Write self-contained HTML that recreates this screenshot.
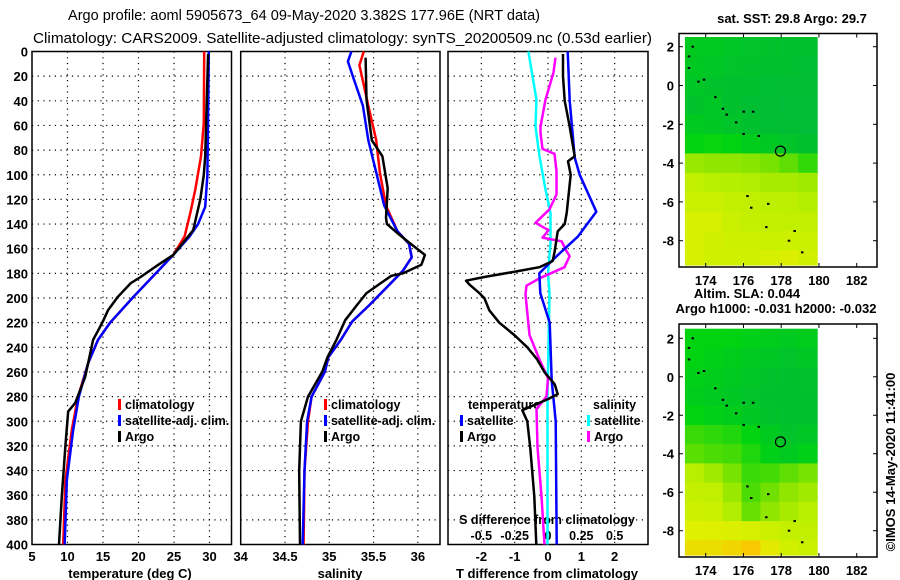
<!DOCTYPE html>
<html><head><meta charset="utf-8"><style>
html,body{margin:0;padding:0;background:#fff;}
svg{display:block;font-family:"Liberation Sans",sans-serif;}
.t{font-size:13px;font-weight:bold;}
</style></head><body>
<svg id="fig" width="900" height="580" viewBox="0 0 900 580" xmlns="http://www.w3.org/2000/svg">
<text x="68" y="20" font-size="14.5" textLength="472" lengthAdjust="spacingAndGlyphs">Argo profile: aoml 5905673_64 09-May-2020 3.382S 177.96E (NRT data)</text>
<text x="33" y="43" font-size="14.5" textLength="619" lengthAdjust="spacingAndGlyphs">Climatology: CARS2009. Satellite-adjusted climatology: synTS_20200509.nc (0.53d earlier)</text>
<g id="plots"></g>
<text class="t" transform="translate(895,462) rotate(-90)" text-anchor="middle" font-size="13" font-weight="normal">©IMOS 14-May-2020 11:41:00</text>
</svg>
<script>
// ---------- data ----------
const depthTicks = [0,20,40,60,80,100,120,140,160,180,200,220,240,260,280,300,320,340,360,380,400];
const tempTicks = [5,10,15,20,25,30];
const salTicks = [34,34.5,35,35.5,36];
const tdiffTicks = [-2,-1,0,1,2];
const sdiffTicks = [-0.5,-0.25,0,0.25,0.5];
const sdiffTickLabels = ['-0.5','-0.25','0','0.25','0.5'];

const tClimDepth = [0,58,85,112,131,150,165,199,220,234,253,280,307,348,400];
const tClimVal   = [29.25,29.2,28.8,28.0,27.3,26.5,24.9,19.3,16.0,14.3,12.9,11.5,10.6,9.7,9.4];
const tSatDepth  = [0,100,126,140,150,165,199,220,234,253,280,307,348,400];
const tSatVal    = [29.9,29.7,29.4,28.4,27.2,24.9,19.3,16.0,14.3,12.9,11.6,10.8,9.9,9.6];
const tArgoDepth = [2,85,100,120,140,145,165,173,183,188,199,210,220,234,253,264,285,292,320,361,400];
const tArgoVal   = [29.8,29.4,29.2,28.7,27.9,27.7,24.9,22.8,20.3,18.9,17.1,15.7,14.9,13.6,12.9,12.5,11.1,10.1,9.7,9.2,8.8];

const sClimDepth = [0,11,44,72,98,125,146,156,167,178,192,206,219,234,248,260,280,300,340,400];
const sClimVal   = [35.39,35.34,35.44,35.53,35.57,35.64,35.77,35.9,35.93,35.83,35.64,35.45,35.26,35.13,34.99,34.95,34.8,34.76,34.72,34.71];
const sSatDepth  = [0,8,21,44,72,98,125,146,156,167,178,192,206,219,234,248,260,280,300,340,400];
const sSatVal    = [35.25,35.21,35.27,35.38,35.44,35.53,35.62,35.77,35.9,35.93,35.83,35.64,35.45,35.26,35.13,34.99,34.95,34.8,34.75,34.72,34.7];
const sArgoDepth = [5,39,72,85,111,135,140,148,155,165,173,180,182,196,206,218,234,248,260,280,300,340,400];
const sArgoVal   = [35.41,35.42,35.48,35.6,35.66,35.64,35.65,35.78,35.9,36.08,36.04,35.83,35.7,35.42,35.31,35.18,35.08,34.98,34.92,34.76,34.68,34.66,34.67];

const dtArgoDepth = [2,20,40,61,85,89,100,131,140,146,162,170,175,178,183,186,189,196,200,210,220,230,240,250,260,270,278,282,291,300,322,361,400];
const dtArgoVal   = [0.45,0.45,0.5,0.65,0.8,0.6,0.68,0.56,0.5,0.29,0.2,0.14,-0.26,-0.86,-1.91,-2.46,-2.36,-2.06,-1.91,-1.76,-1.46,-1.01,-0.62,-0.32,-0.11,0.2,0.29,0.0,-0.77,-0.62,-0.53,-0.41,-0.35];
const dtSatDepth  = [0,40,86,100,130,150,165,180,196,220,267,300,400];
const dtSatVal    = [0.59,0.65,0.8,0.95,1.45,0.9,0.3,-0.26,-0.23,0.05,0.11,0.23,0.26];
const dsSatDepth  = [0,39,61,85,112,131,155,180,196,280,400];
const dsSatVal    = [-0.147,-0.087,-0.094,-0.064,-0.019,0.019,0.019,0,0.011,-0.004,-0.004];
const dsArgoDepth = [5,17,39,61,66,79,83,97,116,128,139,145,151,154,162,166,175,184,190,197,230,250,265,280,290,321,361,400];
const dsArgoVal   = [0.056,0.041,-0.019,-0.056,-0.056,-0.041,0.049,0.064,0.064,0.011,-0.094,0.004,-0.041,0.102,0.139,0.162,0.124,-0.064,-0.161,-0.169,-0.139,-0.064,0,-0.011,-0.086,-0.079,-0.049,-0.026];

// maps: rows lat 2.5..-9.5 (1 deg), cols lon 173..180 (1 deg), values 0..1 on colour scale
const mapLonTicks = [174,176,178,180,182];
const mapLatTicks = [2,0,-2,-4,-6,-8];
const sstGrid = [
 [0.18,0.18,0.15,0.14,0.13,0.12,0.12],
 [0.17,0.15,0.14,0.13,0.12,0.11,0.10],
 [0.15,0.13,0.12,0.12,0.10,0.09,0.09],
 [0.13,0.15,0.12,0.10,0.09,0.08,0.08],
 [0.18,0.16,0.14,0.12,0.10,0.09,0.08],
 [0.24,0.27,0.24,0.20,0.17,0.14,0.12],
 [0.60,0.58,0.58,0.56,0.52,0.46,0.36],
 [0.70,0.68,0.67,0.66,0.64,0.64,0.62],
 [0.74,0.74,0.71,0.70,0.69,0.69,0.67],
 [0.80,0.80,0.74,0.71,0.71,0.70,0.70],
 [0.80,0.78,0.76,0.75,0.74,0.75,0.74],
 [0.80,0.78,0.78,0.77,0.80,0.82,0.78]
];
const slaGrid = [
 [0.25,0.25,0.24,0.22,0.20,0.18,0.20],
 [0.24,0.22,0.20,0.18,0.16,0.14,0.16],
 [0.22,0.20,0.18,0.15,0.13,0.12,0.13],
 [0.20,0.18,0.16,0.14,0.12,0.11,0.12],
 [0.25,0.22,0.20,0.16,0.13,0.12,0.12],
 [0.38,0.35,0.32,0.25,0.18,0.14,0.15],
 [0.45,0.42,0.40,0.32,0.22,0.18,0.22],
 [0.68,0.62,0.52,0.38,0.40,0.46,0.52],
 [0.72,0.70,0.60,0.42,0.50,0.58,0.62],
 [0.75,0.74,0.66,0.48,0.58,0.64,0.68],
 [0.85,0.84,0.82,0.80,0.75,0.72,0.70],
 [0.92,0.92,0.95,1.00,0.88,0.78,0.74]
];
const islandLon = [173.1,173.3,173.6,173.9,174.5,174.9,175.1,175.6,176.0,176.5,176.8,176.0,176.2,176.4,177.3,177.2,178.4,178.7,179.1,173.1];
const islandLat = [1.5,2.0,0.2,0.3,-0.6,-1.2,-1.5,-1.9,-1.35,-1.35,-2.6,-2.5,-5.7,-6.3,-6.1,-7.3,-8.0,-7.5,-8.6,0.9];
const argoLon = 177.96, argoLat = -3.382;

// ---------- helpers ----------
const NS='http://www.w3.org/2000/svg';
const root=document.getElementById('plots');
function el(tag,attrs,parent){const e=document.createElementNS(NS,tag);for(const k in attrs)e.setAttribute(k,attrs[k]);(parent||root).appendChild(e);return e;}
function txt(x,y,s,anchor,parent,size){const t=el('text',{x:x,y:y,'text-anchor':anchor||'middle','font-size':size||13,'font-weight':'bold'},parent);t.textContent=s;return t;}

const PY0=51.5, PY1=544.5;
function yD(d){return PY0+(d/400)*(PY1-PY0);}

function panel(name,x0,x1,vmin,vmax,ticks,labels){
  const g=el('g',{});
  
  
  const sx=v=>x0+(v-vmin)/(vmax-vmin)*(x1-x0);
  depthTicks.forEach(d=>{ if(d>0&&d<400){const l=el('line',{x1:x0,x2:x1,y1:yD(d),y2:yD(d),stroke:'#000','stroke-width':1.2,'stroke-dasharray':'1.2 4.5'},g);
    
    }});
  ticks.forEach(v=>{const X=sx(v); if(X>x0+1&&X<x1-1){const l=el('line',{x1:X,x2:X,y1:PY0,y2:PY1,stroke:'#000','stroke-width':1.2,'stroke-dasharray':'1.2 4.5'},g);
    
    }
    if(labels){const t=txt(X,561,labels[ticks.indexOf(v)],'middle',g);
      
      }});
  const f=el('rect',{x:x0,y:PY0,width:x1-x0,height:PY1-PY0,fill:'none',stroke:'#000','stroke-width':1.5},g);
  
  
  return {g,sx};
}
function line(p,depths,vals,color,name,scaleFn){
  let d='';depths.forEach((z,i)=>{d+=(i?'L':'M')+(scaleFn?scaleFn(vals[i]):p.sx(vals[i])).toFixed(1)+' '+yD(z).toFixed(1);});
  const e=el('path',{d:d,fill:'none',stroke:color,'stroke-width':2.5,'stroke-linejoin':'round'},p.g);
  
  
}
function legend(g,x,y,color,label){
  const r=el('rect',{x:x,y:y-10,width:3,height:11,fill:color},g);
  
  
  const t=txt(x+7,y,label,'start',g,12.5);
  
  
}

// depth axis labels
depthTicks.forEach(d=>{const t=txt(28,yD(d)+5,String(d),'end');
  
  });

// Panel 1 temperature
const p1=panel('temperature-panel',32,231.5,5,33.1,tempTicks,tempTicks.map(String));
line(p1,tClimDepth,tClimVal,'#ff0000','temperature-climatology-line');
line(p1,tSatDepth,tSatVal,'#0000ff','temperature-satellite-line');
line(p1,tArgoDepth,tArgoVal,'#000','temperature-argo-line');
legend(p1.g,118,409,'#ff0000','climatology');
legend(p1.g,118,425,'#0000ff','satellite-adj. clim.');
legend(p1.g,118,441,'#000','Argo');
let t=txt(130,578,'temperature (deg C)','middle');



// Panel 2 salinity
const p2=panel('salinity-panel',240.7,440,34,36.25,salTicks,salTicks.map(String));
line(p2,sClimDepth,sClimVal,'#ff0000','salinity-climatology-line');
line(p2,sSatDepth,sSatVal,'#0000ff','salinity-satellite-line');
line(p2,sArgoDepth,sArgoVal,'#000','salinity-argo-line');
legend(p2.g,324,409,'#ff0000','climatology');
legend(p2.g,324,425,'#0000ff','satellite-adj. clim.');
legend(p2.g,324,441,'#000','Argo');
t=txt(340,578,'salinity','middle');



// Panel 3 differences
const p3=panel('difference-panel',448,648,-3,3,tdiffTicks,tdiffTicks.map(String));
const sxS=v=>p3.sx(v*4);
t=txt(547,524,'S difference from climatology','middle',p3.g,12.5);


sdiffTicks.forEach((v,i)=>{const tt=txt(sxS(v),540,sdiffTickLabels[i],'middle',p3.g,12.5);
  
  });
t=txt(468,409,'temperature','start',p3.g,12.5);


t=txt(593,409,'salinity','start',p3.g,12.5);


legend(p3.g,460,425,'#0000ff','satellite');
legend(p3.g,460,441,'#000','Argo');
legend(p3.g,587,425,'#00ffff','satellite');
legend(p3.g,587,441,'#ff00ff','Argo');
line(p3,dsSatDepth,dsSatVal,'#00ffff','salinity-satellite-diff-line',sxS);
line(p3,dsArgoDepth,dsArgoVal,'#ff00ff','salinity-argo-diff-line',sxS);
line(p3,dtSatDepth,dtSatVal,'#0000ff','temperature-satellite-diff-line');
line(p3,dtArgoDepth,dtArgoVal,'#000','temperature-argo-diff-line');
t=txt(547,578,'T difference from climatology','middle');



// ---------- maps ----------
const cstops=[[0,[0,176,72]],[0.25,[0,212,16]],[0.5,[112,224,0]],[0.7,[192,240,0]],[0.85,[224,240,0]],[1,[248,200,0]]];
function cmap(v){for(let i=1;i<cstops.length;i++){if(v<=cstops[i][0]){const a=cstops[i-1],b=cstops[i];const f=(v-a[0])/(b[0]-a[0]);return 'rgb('+a[1].map((c,k)=>Math.round(c+(b[1][k]-c)*f)).join(',')+')';}}return 'rgb(248,200,0)';}
function drawMap(name,grid,fy0,fy1,lat2y,latm8y){
  const g=el('g',{});
  
  
  const lon174=705.7,lon182=856.7;
  const sx=lon=>lon174+(lon-174)/8*(lon182-lon174);
  const sy=lat=>lat2y+(2-lat)/10*(latm8y-lat2y);
  const top=2.6, bot=(2-(fy1-2-lat2y)/((latm8y-lat2y)/10));
  grid.forEach((row,r)=>row.forEach((v,c)=>{
    const la0=Math.min(top,2.5-r), la1=Math.max(bot,1.5-r);
    const lo0=172.9+c, lo1=Math.min(180.15,173.9+c+0.0);
    const rc=el('rect',{x:sx(lo0).toFixed(1),y:sy(la0).toFixed(1),width:(sx(lo1)-sx(lo0)+0.6).toFixed(1),height:(sy(la1)-sy(la0)+0.6).toFixed(1),fill:cmap(v)},g);
    
    
  }));
  islandLon.forEach((lo,i)=>{const d=el('rect',{x:sx(lo)-1,y:sy(islandLat[i])-1,width:2.5,height:2,fill:'#000'},g);
    
    });
  const c=el('circle',{cx:sx(argoLon),cy:sy(argoLat),r:5,fill:'none',stroke:'#000','stroke-width':1.2},g);
  
  
  const f=el('rect',{x:679,y:fy0,width:198,height:fy1-fy0,fill:'none',stroke:'#000','stroke-width':1.5},g);
  
  
  mapLonTicks.forEach(lo=>{const X=sx(lo);
    el('line',{x1:X,x2:X,y1:fy0,y2:fy0+4,stroke:'#000'},g);
    el('line',{x1:X,x2:X,y1:fy1,y2:fy1-4,stroke:'#000'},g);
    const tt=txt(X,fy1+18,String(lo),'middle',g);
    
    });
  mapLatTicks.forEach(la=>{const Y=sy(la);
    el('line',{x1:679,x2:683,y1:Y,y2:Y,stroke:'#000'},g);
    el('line',{x1:877,x2:873,y1:Y,y2:Y,stroke:'#000'},g);
    const tt=txt(674,Y+5,String(la),'end',g);
    
    });
}
t=txt(792,23,'sat. SST: 29.8 Argo: 29.7','middle');


drawMap('sst-map',sstGrid,33.5,267,46.7,240.7);
t=txt(747,298,'Altim. SLA: 0.044','middle');


t=txt(776,313,'Argo h1000: -0.031 h2000: -0.032','middle');


drawMap('sla-map',slaGrid,324,557,338.3,530.7);
</script>
</body></html>
